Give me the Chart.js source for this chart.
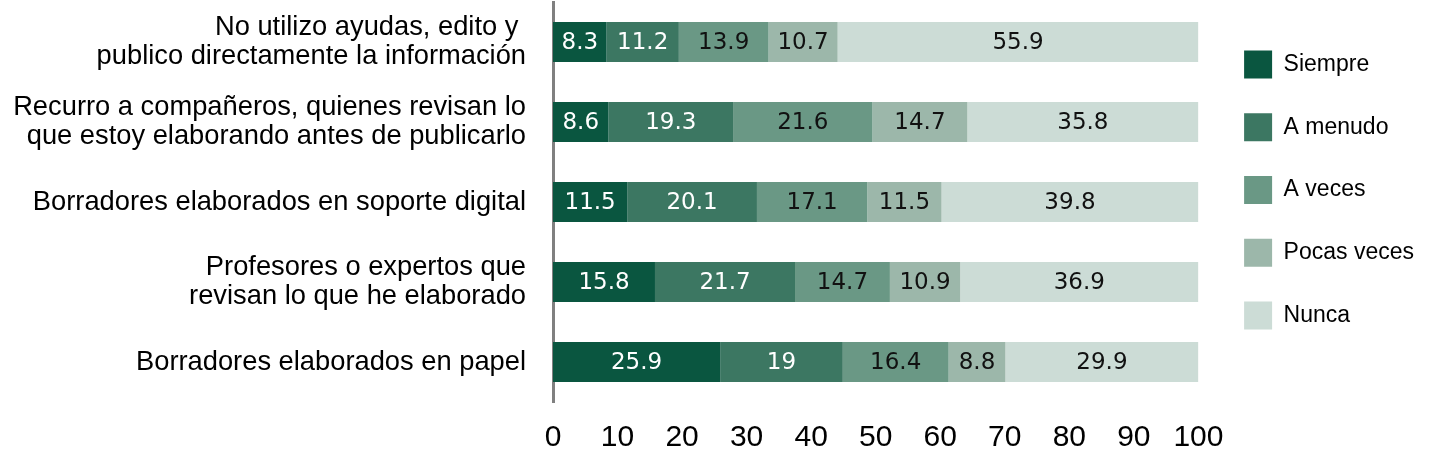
<!DOCTYPE html>
<html>
<head>
<meta charset="utf-8">
<script src="https://cdn.jsdelivr.net/npm/chart.js@4.4.0/dist/chart.umd.min.js"></script>
<style>
  html, body { margin: 0; padding: 0; background: #fff; }
  #chart { display: block; }
</style>
</head>
<body>
<canvas id="chart" width="1444" height="456"></canvas>
<script>
// categories, top to bottom
const categories = [
  ['No utilizo ayudas, edito y ', 'publico directamente la información'],
  ['Recurro a compañeros, quienes revisan lo', 'que estoy elaborando antes de publicarlo'],
  'Borradores elaborados en soporte digital',
  ['Profesores o expertos que', 'revisan lo que he elaborado'],
  'Borradores elaborados en papel'
];

// series values (%)
const seriesNames = ['Siempre', 'A menudo', 'A veces', 'Pocas veces', 'Nunca'];
const siempre    = [8.3, 8.6, 11.5, 15.8, 25.9];
const aMenudo    = [11.2, 19.3, 20.1, 21.7, 19];
const aVeces     = [13.9, 21.6, 17.1, 14.7, 16.4];
const pocasVeces = [10.7, 14.7, 11.5, 10.9, 8.8];
const nunca      = [55.9, 35.8, 39.8, 36.9, 29.9];

// x axis tick labels
const xTicks = [0, 10, 20, 30, 40, 50, 60, 70, 80, 90, 100];

const colors = ['#0a5640', '#3c7762', '#6a9885', '#9cb7aa', '#ccdcd6'];
const labelColors = ['#ffffff', '#ffffff', '#111111', '#111111', '#111111'];
const values = [siempre, aMenudo, aVeces, pocasVeces, nunca];

// value labels in the middle of every segment
const barLabels = {
  id: 'barLabels',
  afterDatasetsDraw(chart) {
    const ctx = chart.ctx;
    ctx.save();
    ctx.font = '23px "DejaVu Sans"';
    ctx.textAlign = 'center';
    ctx.textBaseline = 'middle';
    chart.data.datasets.forEach((ds, i) => {
      const meta = chart.getDatasetMeta(i);
      meta.data.forEach((bar, j) => {
        const p = bar.getProps(['x', 'y', 'base'], true);
        ctx.fillStyle = labelColors[i];
        ctx.fillText(String(ds.data[j]), (p.x + p.base) / 2, p.y + 1);
      });
    });
    ctx.restore();
  }
};

// small nudge so the legend sits where the original has it
const legendNudge = {
  id: 'legendNudge',
  afterLayout(chart) {
    const lg = chart.legend;
    if (!lg) return;
    lg.left += 11; lg.right += 11;
    lg.top -= 39; lg.bottom -= 39;
  }
};

new Chart(document.getElementById('chart'), {
  type: 'bar',
  data: {
    labels: categories,
    datasets: seriesNames.map((name, i) => ({
      label: name,
      data: values[i],
      backgroundColor: colors[i],
      borderWidth: 0,
      barPercentage: 0.5,
      categoryPercentage: 1.0
    }))
  },
  options: {
    indexAxis: 'y',
    responsive: false,
    devicePixelRatio: 1,
    animation: false,
    layout: { padding: { top: 2, right: 31, bottom: 0, left: 0 } },
    scales: {
      x: {
        stacked: true,
        min: 0,
        max: 100,
        afterBuildTicks: s => { s.ticks = xTicks.map(v => ({ value: v })); },
        afterFit: s => { s.height = 54; },
        grid: { display: false, drawTicks: false },
        border: { display: false },
        ticks: {
          padding: 18,
          color: '#000',
          font: { family: '"Liberation Sans", Arial, sans-serif', size: 30 }
        }
      },
      y: {
        stacked: true,
        afterFit: s => { s.width = 553; s.paddingTop = 0; s.paddingBottom = 0; },
        grid: { display: false, drawTicks: false },
        border: { display: true, color: '#808080', width: 3 },
        ticks: {
          padding: 27,
          color: '#000',
          font: { family: '"Liberation Sans", Arial, sans-serif', size: 27.3, lineHeight: 1.06 }
        }
      }
    },
    plugins: {
      tooltip: { enabled: false },
      legend: {
        position: 'right',
        labels: {
          boxWidth: 28,
          boxHeight: 28,
          padding: 34.7,
          color: '#000',
          font: { family: '"Liberation Sans", Arial, sans-serif', size: 23 }
        }
      }
    }
  },
  plugins: [barLabels, legendNudge]
});
</script>
</body>
</html>
